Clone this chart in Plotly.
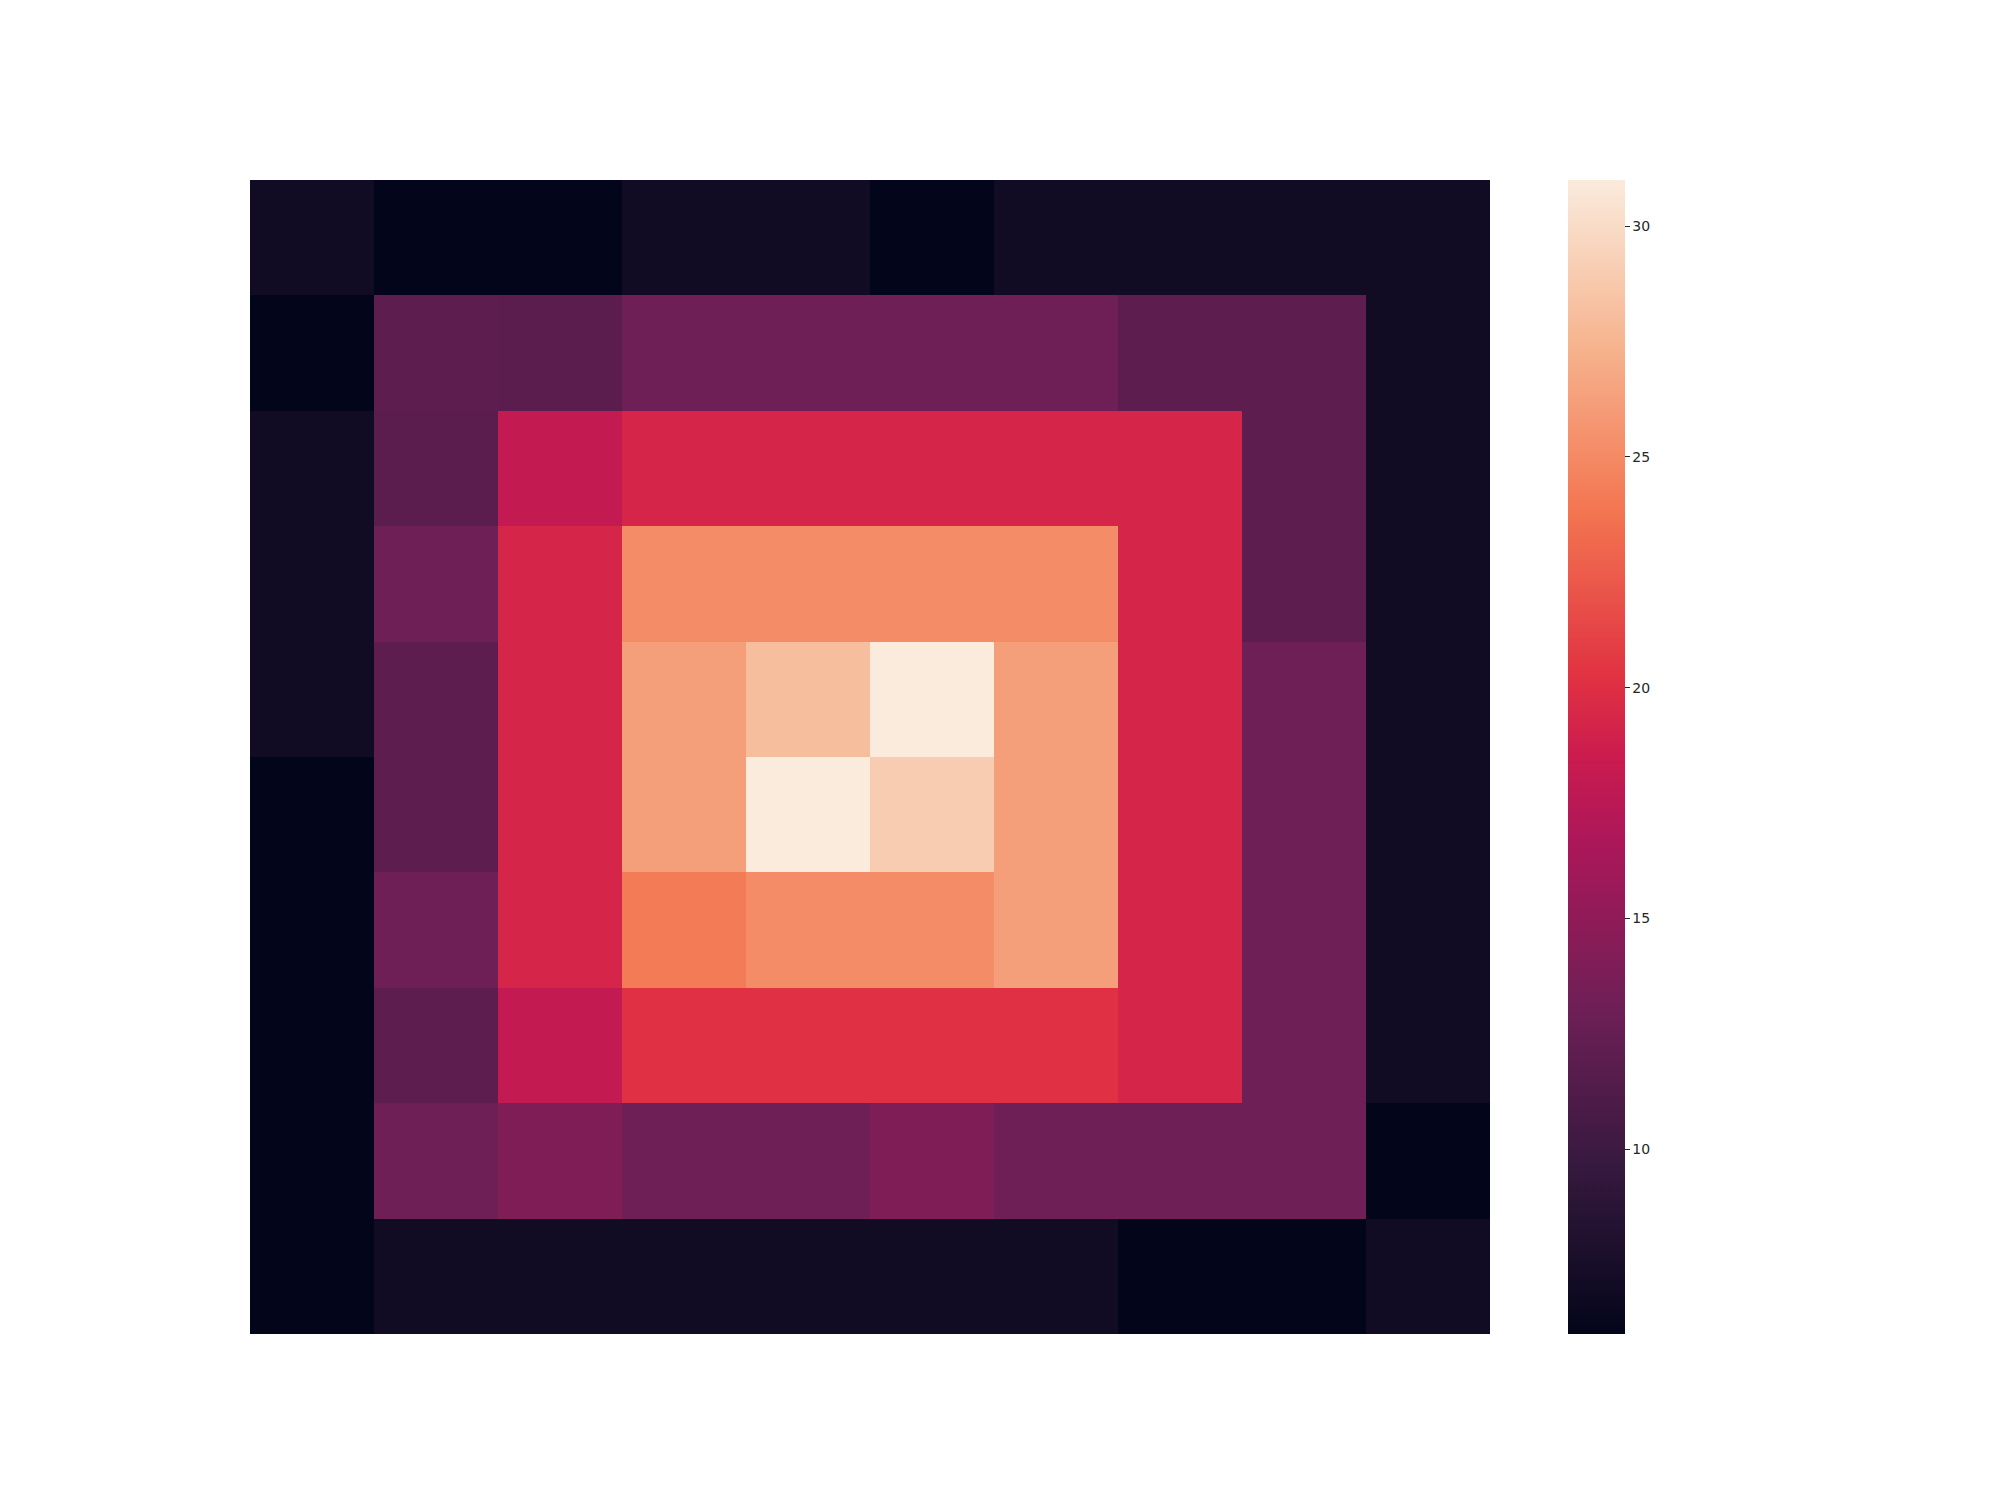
import plotly.graph_objects as go

# Heatmap values (rows top to bottom, columns left to right)
row0 = [7, 6, 6, 7, 7, 6, 7, 7, 7, 7]
row1 = [6, 12.0, 11.8, 13, 13, 13, 13, 12, 12, 7]
row2 = [7, 11.9, 18, 19.3, 19.3, 19.3, 19.3, 19.3, 12, 7]
row3 = [7, 13, 19.3, 25.1, 25.1, 25.1, 25.1, 19.3, 12, 7]
row4 = [7, 12, 19.3, 26.2, 28.1, 31, 26.2, 19.3, 13, 7]
row5 = [6, 12, 19.3, 26.2, 31, 29, 26.2, 19.3, 13, 7]
row6 = [6, 13, 19.3, 24.2, 25.1, 25.1, 26.2, 19.3, 13, 7]
row7 = [6, 12, 18, 20.1, 20.1, 20.1, 20.1, 19.3, 13, 7]
row8 = [6, 13, 14, 13, 13, 14, 13, 13, 13, 6]
row9 = [6, 7, 7, 7, 7, 7, 7, 6, 6, 7]
z = [row0, row1, row2, row3, row4, row5, row6, row7, row8, row9]

cbar_ticks = [10, 15, 20, 25, 30]

rocket = [
    [0.0, "#03051a"],
    [1 / 7, "#35193e"],
    [2 / 7, "#701f57"],
    [3 / 7, "#ad1759"],
    [0.5, "#cb1b4f"],
    [4 / 7, "#e13342"],
    [5 / 7, "#f37651"],
    [6 / 7, "#f6b48f"],
    [1.0, "#faebdd"],
]

fig = go.Figure(
    go.Heatmap(
        z=z,
        colorscale=rocket,
        zmin=6,
        zmax=31,
        xgap=0,
        ygap=0,
        colorbar=dict(
            x=(1568 - 250) / 1240,
            xanchor="left",
            y=0.5,
            yanchor="middle",
            len=1.0,
            lenmode="fraction",
            thickness=57,
            thicknessmode="pixels",
            outlinewidth=0,
            xpad=0,
            ypad=0,
            ticks="outside",
            ticklen=5,
            tickwidth=1,
            tickcolor="#262626",
            tickvals=cbar_ticks,
            tickfont=dict(family="DejaVu Sans", size=14, color="#262626"),
        ),
    )
)

fig.update_xaxes(showticklabels=False, showgrid=False, zeroline=False, ticks="",
                 showline=False, range=[-0.5, 9.5])
fig.update_yaxes(showticklabels=False, showgrid=False, zeroline=False, ticks="",
                 showline=False, range=[9.5, -0.5])

fig.update_layout(
    width=2000,
    height=1500,
    margin=dict(l=242, r=518, t=172, b=174, pad=0),
    paper_bgcolor="white",
    plot_bgcolor="white",
)

fig.write_html("out.html")
